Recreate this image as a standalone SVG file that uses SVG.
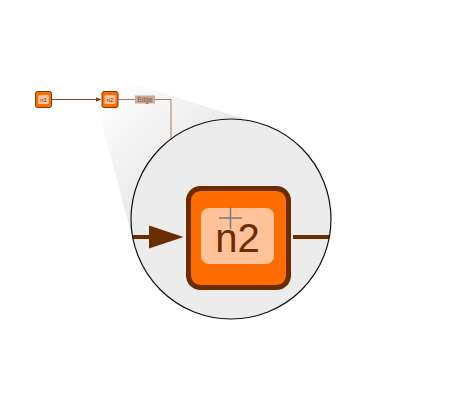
<svg xmlns="http://www.w3.org/2000/svg" width="460" height="400" viewBox="0 0 460 400">
<defs>
<style>
.nodeO{fill:#ff6d00;stroke:#6b2d00}
.nodeI{fill:#ffc299}
.lbl{font-family:"Liberation Sans",Arial,sans-serif;fill:#6b2d00;text-anchor:middle}
.edge{fill:none;stroke:#7a4424;stroke-width:1}
.edge2{fill:none;stroke:#a87c5f;stroke-width:1}
.bigEdge{fill:none;stroke:#6b2d00;stroke-width:4}
</style>
<linearGradient id="cone" gradientUnits="userSpaceOnUse" x1="105" y1="90" x2="200" y2="190">
<stop offset="0" stop-color="#ffffff"/>
<stop offset="1" stop-color="#e4e4e4"/>
</linearGradient>
<clipPath id="lensClip"><circle cx="231" cy="219" r="100"/></clipPath>
</defs>
<rect width="460" height="400" fill="#ffffff"/>
<g id="lens-cone">
<polygon points="87,69 261,124 231,219 134.5,245.3" fill="url(#cone)"/>
</g>
<g id="connectors">
<path class="edge" d="M51.5,99.5 H97"/>
<polygon points="96,97.2 101.5,99.5 96,101.8" fill="#7a4424"/>
<path class="edge2" d="M118.5,99.5 H171 V145"/>
</g>
<g id="edge-label">
<rect x="135" y="95.5" width="20" height="8" fill="#c9a996"/>
<text x="145" y="102.2" font-size="6.5" font-family="Liberation Sans,Arial,sans-serif" fill="#7d5a48" text-anchor="middle">Edge</text>
</g>
<g id="n1">
<rect class="nodeO" x="35.5" y="91.5" width="16" height="16" rx="2" stroke-width="0.9"/>
<rect class="nodeI" x="38" y="95" width="11" height="9" rx="1.2"/>
<text class="lbl" x="43.5" y="102" font-size="6">n1</text>
</g>
<g id="n2">
<rect class="nodeO" x="102" y="91.5" width="16" height="16" rx="2" stroke-width="0.9"/>
<rect class="nodeI" x="104.5" y="95" width="11" height="9" rx="1.2"/>
<text class="lbl" x="110" y="102" font-size="6">n2</text>
</g>
<g id="magnifier">
<circle cx="231" cy="219" r="100" fill="#ececec"/>
<g clip-path="url(#lensClip)">
<path class="bigEdge" d="M120,237 H152"/>
<polygon points="149,225.5 183.5,237 149,248.5" fill="#6b2d00"/>
<path class="bigEdge" d="M293,237 H340"/>
<rect x="188.5" y="188.5" width="100" height="99" rx="12" fill="#ff6d00" stroke="#6b2d00" stroke-width="5"/>
<rect x="201" y="208" width="73" height="56" rx="8" fill="#ffc299"/>
<text class="lbl" x="237.5" y="252" font-size="40">n2</text>
<path d="M219,218 H242 M230.5,206.5 V229" stroke="#7a7a7a" stroke-width="1.5" fill="none"/>
</g>
<circle cx="231" cy="219" r="100" fill="none" stroke="#111111" stroke-width="1.2"/>
</g>
</svg>
